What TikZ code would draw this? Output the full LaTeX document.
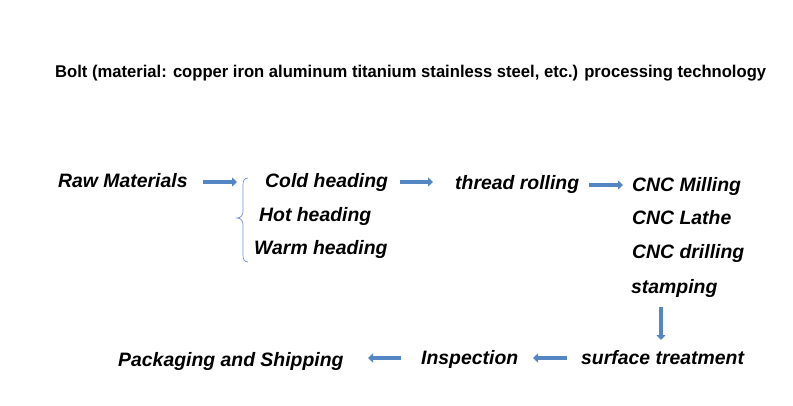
\documentclass[tikz,border=0pt]{standalone}
\usepackage{fontspec}
\setmainfont{Liberation Sans}
\usetikzlibrary{arrows.meta}
\definecolor{arrblue}{RGB}{84,134,196}
\definecolor{bracecol}{RGB}{110,150,215}
\tikzset{
  x=1pt, y=-1pt,
  lbl/.style={anchor=base west, inner sep=0pt, font=\fontsize{19.4}{22}\selectfont\bfseries\itshape},
  blockarrow/.style={draw=arrblue, line width=4pt, -{Triangle[length=5pt,width=9pt]}, shorten >=0pt},
  bracestyle/.style={draw=bracecol, line width=0.7pt}
}
\begin{document}
\begin{tikzpicture}
\useasboundingbox (0,0) rectangle (793,405);
\node[anchor=base west, inner sep=0pt, font=\fontsize{17}{20}\selectfont\bfseries] (title) at (55,77)
  {\scalebox{0.977}[1]{Bolt (material: copper iron aluminum titanium stainless steel, etc.) processing technology}};

\node[lbl] (raw) at (58,187) {Raw Materials};
\node[lbl] (cold) at (265,187) {Cold heading};
\node[lbl] (hot) at (259,221) {Hot heading};
\node[lbl] (warm) at (254,254) {Warm heading};
\node[lbl] (thread) at (455,189) {thread rolling};
\node[lbl] (mill) at (632,191) {CNC Milling};
\node[lbl] (lathe) at (632,224) {CNC Lathe};
\node[lbl] (drill) at (632,258) {CNC drilling};
\node[lbl] (stamp) at (631,293) {stamping};
\node[lbl] (surf) at (581,364) {surface treatment};
\node[lbl] (insp) at (421,364) {Inspection};
\node[lbl] (pack) at (118,366) {Packaging and Shipping};

\coordinate (a1s) at (203,182); \coordinate (a1e) at (237,182);
\coordinate (a2s) at (400,182); \coordinate (a2e) at (433,182);
\coordinate (a3s) at (589,185); \coordinate (a3e) at (623,185);
\coordinate (a4s) at (661,307); \coordinate (a4e) at (661,340);
\coordinate (a5s) at (567,358); \coordinate (a5e) at (533,358);
\coordinate (a6s) at (401,358); \coordinate (a6e) at (368,358);

\draw[blockarrow] (a1s) -- (a1e);
\draw[blockarrow] (a2s) -- (a2e);
\draw[blockarrow] (a3s) -- (a3e);
\draw[blockarrow] (a4s) -- (a4e);
\draw[blockarrow] (a5s) -- (a5e);
\draw[blockarrow] (a6s) -- (a6e);

\coordinate (btop) at (248,178);
\coordinate (bmid) at (237,218);
\coordinate (bbot) at (248,262);
\draw[bracestyle] (btop) .. controls (244,178) and (243,181) .. (243,185)
  -- (243,211) .. controls (243,215) and (241,218) .. (bmid)
  .. controls (241,218) and (243,221) .. (243,225)
  -- (243,255) .. controls (243,259) and (244,262) .. (bbot);
\end{tikzpicture}
\end{document}
